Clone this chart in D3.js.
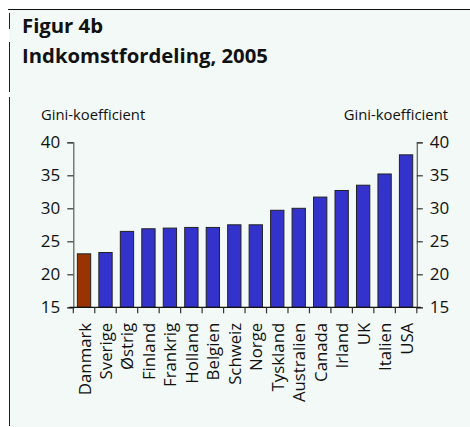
<!DOCTYPE html>
<html><head><meta charset="utf-8">
<script src="https://cdn.jsdelivr.net/npm/d3@7"></script>
<style>html,body{margin:0;padding:0;background:#fff;}svg{display:block;}</style>
</head><body>
<svg id="c" width="470" height="427"></svg>
<script>
const categories = ["Danmark","Sverige","Østrig","Finland","Frankrig","Holland","Belgien","Schweiz","Norge","Tyskland","Australien","Canada","Irland","UK","Italien","USA"];
const values = [23.1,23.3,26.5,26.9,27.0,27.1,27.1,27.5,27.5,29.7,30.0,31.7,32.7,33.5,35.2,38.1];
const highlight = ["Danmark"];
const yTicks = [15,20,25,30,35,40];
const titleLines = ["Figur 4b","Indkomstfordeling, 2005"];
const axisTitle = "Gini-koefficient";

(function(){
const svg = d3.select("#c");
const font = "'Open Sans', sans-serif";

// background & frame
svg.append("rect").attr("x",9).attr("y",10).attr("width",461).attr("height",417).attr("fill","#f2f9f6");
svg.append("line").attr("x1",8).attr("x2",470).attr("y1",9.5).attr("y2",9.5).attr("stroke","#111").attr("stroke-width",1.2);
[[13,29],[42,92],[97,426]].forEach(s=>{
  svg.append("line").attr("x1",9.5).attr("x2",9.5).attr("y1",s[0]).attr("y2",s[1]).attr("stroke","#222").attr("stroke-width",1);
});

// titles
svg.append("text").attr("x",22).attr("y",33).text(titleLines[0])
  .attr("font-family",font).attr("font-weight","bold").attr("font-size",20.3).attr("fill","#111");
svg.append("text").attr("x",22).attr("y",63).text(titleLines[1])
  .attr("font-family",font).attr("font-weight","bold").attr("font-size",20.3).attr("fill","#111");

const pl = 73.3, pr = 416.8, pt = 142.3, pb = 307.3;
const x = d3.scaleBand().domain(categories).range([pl,pr]).paddingInner(0.38).paddingOuter(0.19);
const y = d3.scaleLinear().domain([15,40]).range([pb,pt]);

// bars
svg.append("g").selectAll("rect").data(categories).join("rect")
  .attr("x",d=>x(d)).attr("width",x.bandwidth())
  .attr("y",(d,i)=>y(values[i])).attr("height",(d,i)=>pb-y(values[i]))
  .attr("fill",d=>highlight.includes(d)?"#993300":"#3333cc")
  .attr("stroke","#222").attr("stroke-width",1);

// left & right axes
const gl = svg.append("g").attr("transform",`translate(${pl},0)`)
  .call(d3.axisLeft(y).tickValues(yTicks).tickSize(6).tickPadding(7));
const gr = svg.append("g").attr("transform",`translate(${pr},0)`)
  .call(d3.axisRight(y).tickValues(yTicks).tickSize(6).tickPadding(7));
[gl,gr].forEach(g=>{
  g.select(".domain").attr("stroke","#666").attr("stroke-width",1.3);
  g.selectAll(".tick line").attr("stroke","#333").attr("stroke-width",1.2);
  g.selectAll(".tick text").attr("font-family",font).attr("font-size",17).attr("fill","#111");
});

// bottom axis with ticks at band boundaries
const gb = svg.append("g").attr("transform",`translate(0,${pb})`);
gb.append("line").attr("x1",pl-4).attr("x2",pr+4).attr("y1",0).attr("y2",0).attr("stroke","#111").attr("stroke-width",1.3);
const bounds = d3.range(categories.length+1).map(i=>pl + i*(pr-pl)/categories.length);
gb.selectAll("line.t").data(bounds).join("line").attr("class","t")
  .attr("x1",d=>d).attr("x2",d=>d).attr("y1",0).attr("y2",6).attr("stroke","#333").attr("stroke-width",1.2);
gb.selectAll("text").data(categories).join("text")
  .attr("transform",d=>`translate(${x(d)+x.bandwidth()/2+6.5},15.5) rotate(-90)`)
  .attr("text-anchor","end").attr("font-family",font).attr("font-size",16.8).attr("fill","#111")
  .text(d=>d);

// axis titles
svg.append("text").attr("x",41).attr("y",120).text(axisTitle)
  .attr("font-family",font).attr("font-size",14.8).attr("fill","#111");
svg.append("text").attr("x",448).attr("y",120).attr("text-anchor","end").text(axisTitle)
  .attr("font-family",font).attr("font-size",14.8).attr("fill","#111");
})();
</script>
</body></html>
